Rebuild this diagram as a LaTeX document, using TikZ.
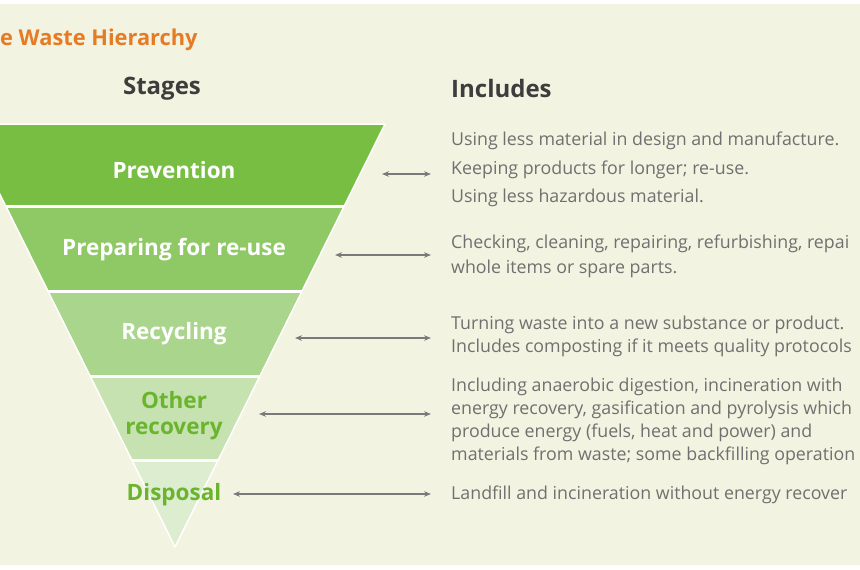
\documentclass[tikz,border=0pt]{standalone}
\usepackage{fontspec}
\setmainfont{Open Sans}
\usetikzlibrary{arrows.meta}

\definecolor{cream}{HTML}{F2F3E0}
\definecolor{bandone}{HTML}{78BE43}
\definecolor{bandtwo}{HTML}{8FC965}
\definecolor{bandthree}{HTML}{AAD58C}
\definecolor{bandfour}{HTML}{C6E2B0}
\definecolor{bandfive}{HTML}{DDEDCF}
\definecolor{stagegreen}{HTML}{6AB42E}
\definecolor{titleorange}{HTML}{E57C25}
\definecolor{headgray}{HTML}{3D3D3D}
\definecolor{descgray}{HTML}{707070}
\definecolor{arrowgray}{HTML}{7A7A7A}

\begin{document}
\begin{tikzpicture}[x=1pt, y=-1pt,
  stage/.style={font=\fontsize{22.5}{24}\selectfont\bfseries, align=center, inner sep=0pt},
  desc/.style={font=\fontsize{17.8}{23}\selectfont, text=descgray, align=left,
    anchor=west, inner sep=0pt},
  head/.style={font=\fontsize{24}{26}\selectfont\bfseries, text=headgray, inner sep=0pt},
  link/.style={{Stealth[length=7pt,width=5.5pt]}-{Stealth[length=7pt,width=5.5pt]},
    line width=1.9pt, arrowgray}]
  \useasboundingbox (0,0) rectangle (860,570);
  \clip (0,0) rectangle (860,570);
  \fill[cream] (0,4) rectangle (860,565);

  % inverted triangle, apex at the bottom
  \coordinate (TL) at (-35,124);
  \coordinate (TR) at (385,124);
  \coordinate (Apex) at (175,547);
  \begin{scope}
    \clip (TL) -- (TR) -- (Apex) -- cycle;
    \fill[bandone]   (-40,120) rectangle (400,206.5);
    \fill[bandtwo]   (-40,206.5) rectangle (400,291.5);
    \fill[bandthree] (-40,291.5) rectangle (400,376);
    \fill[bandfour]  (-40,376) rectangle (400,460);
    \fill[bandfive]  (-40,460) rectangle (400,550);
    \foreach \y in {206.5, 291.5, 376, 460}
      \draw[white, line width=3pt] (-40,\y) -- (400,\y);
  \end{scope}
  \draw[white, line width=1.5pt, line join=round] (TL) -- (TR) -- (Apex) -- cycle;

  % headings
  \node[font=\fontsize{21.8}{23}\selectfont\bfseries, text=titleorange, anchor=west,
    inner sep=0pt] (title) at (0,40) {e Waste Hierarchy};
  \node[head] (stages) at (162,89) {Stages};
  \node[head, anchor=west] (includes) at (451,88) {Includes};

  % stages
  \node[stage, text=white] (prev) at (174,170) {Prevention};
  \node[stage, text=white] (prep) at (174,250) {Preparing for re-use};
  \node[stage, text=white] (recy) at (174,334) {Recycling};
  \node[stage, text=stagegreen, font=\fontsize{22.5}{26}\selectfont\bfseries]
    (other) at (174,415.5) {Other\\recovery};
  \node[stage, text=stagegreen] (disp) at (174,495) {Disposal};

  % what each stage includes
  \node[desc, font=\fontsize{17.8}{28.5}\selectfont] (dprev) at (451,169.5)
    {Using less material in design and manufacture.\\
     Keeping products for longer; re-use.\\
     Using less hazardous material.};
  \node[desc, font=\fontsize{17.8}{25}\selectfont] (dprep) at (451,256)
    {Checking, cleaning, repairing, refurbishing, repai\\
     whole items or spare parts.};
  \node[desc] (drecy) at (451,336)
    {Turning waste into a new substance or product.\\
     Includes composting if it meets quality protocols};
  \node[desc] (dother) at (451,421)
    {Including anaerobic digestion, incineration with\\
     energy recovery, gasification and pyrolysis which\\
     produce energy (fuels, heat and power) and\\
     materials from waste; some backfilling operation};
  \node[desc] (ddisp) at (451,495)
    {Landfill and incineration without energy recover};

  % arrow ends
  \coordinate (a1l) at (382,174);  \coordinate (a1r) at (431,174);
  \coordinate (a2l) at (335,255);  \coordinate (a2r) at (431,255);
  \coordinate (a3l) at (295,338);  \coordinate (a3r) at (431,338);
  \coordinate (a4l) at (259,414);  \coordinate (a4r) at (431,414);
  \coordinate (a5l) at (233,494);  \coordinate (a5r) at (431,494);
  \foreach \i in {1,...,5}
    \draw[link] (a\i l) -- (a\i r);
\end{tikzpicture}
\end{document}
